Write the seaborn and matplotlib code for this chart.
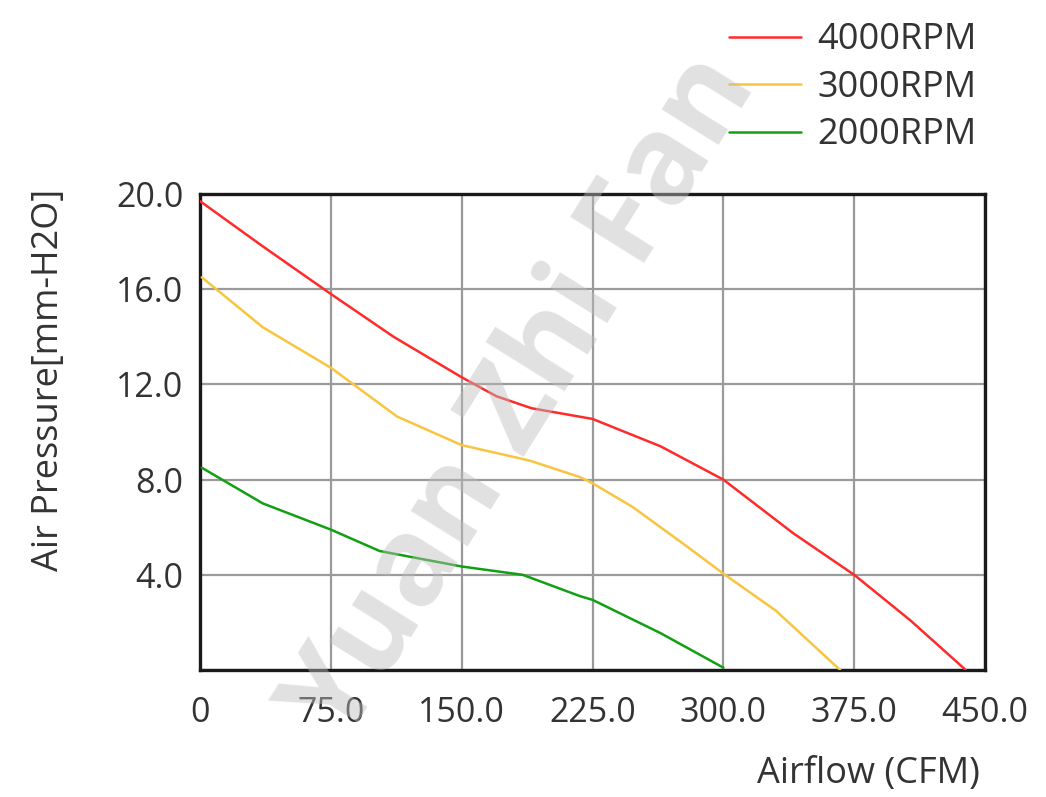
import matplotlib

matplotlib.use("Agg")
import matplotlib.pyplot as plt
import pandas as pd
import seaborn as sns

# P-Q curves
flow_4000 = [0, 36, 75, 111, 150, 170, 190, 225, 264, 300, 340, 375, 407, 439]
pres_4000 = [19.7, 17.8, 15.8, 14.0, 12.3, 11.5, 11.0, 10.55, 9.4, 8.0, 5.75, 4.0, 2.1, 0.0]

flow_3000 = [1, 36, 75, 113, 150, 189, 218, 225, 248, 279, 300, 330, 367]
pres_3000 = [16.5, 14.4, 12.7, 10.65, 9.45, 8.8, 8.1, 7.85, 6.85, 5.2, 4.05, 2.5, 0.0]

flow_2000 = [1, 36, 75, 103, 150, 185, 218, 225, 264, 300]
pres_2000 = [8.5, 7.0, 5.9, 5.0, 4.35, 4.0, 3.1, 2.95, 1.55, 0.1]

speeds = ["4000RPM", "3000RPM", "2000RPM"]
colors = ["#ff2b2b", "#f9c440", "#12a012"]

x_ticks = [0, 75, 150, 225, 300, 375, 450]
x_labels = ["0", "75.0", "150.0", "225.0", "300.0", "375.0", "450.0"]
y_ticks = [4, 8, 12, 16, 20]
y_labels = ["4.0", "8.0", "12.0", "16.0", "20.0"]

df = pd.concat([
    pd.DataFrame({"flow": flow_4000, "pressure": pres_4000, "speed": speeds[0]}),
    pd.DataFrame({"flow": flow_3000, "pressure": pres_3000, "speed": speeds[1]}),
    pd.DataFrame({"flow": flow_2000, "pressure": pres_2000, "speed": speeds[2]}),
], ignore_index=True)

sns.set_style("white")
plt.rcParams["font.family"] = ["Open Sans", "DejaVu Sans"]
TXT = "#333333"
FS_TICK = 24.5
FS_LAB = 26

fig = plt.figure(figsize=(10.46, 7.97), dpi=100)
ax = fig.add_axes([0.1912, 0.1593, 0.7505, 0.5973])

sns.lineplot(data=df, x="flow", y="pressure", hue="speed", hue_order=speeds,
             palette=colors, sort=False, estimator=None, linewidth=1.8,
             ax=ax, zorder=3)

ax.set_xlim(0, 450)
ax.set_ylim(0, 20)
ax.set_xticks(x_ticks)
ax.set_xticklabels(x_labels)
ax.set_yticks([0] + y_ticks)
ax.set_yticklabels([""] + y_labels)
ax.tick_params(axis="both", length=0, labelsize=FS_TICK, colors=TXT)
ax.tick_params(axis="x", pad=19)
ax.tick_params(axis="y", pad=12)
ax.grid(True, color="#9a9a9a", linewidth=1.6, zorder=1)
ax.set_axisbelow(True)
for s in ax.spines.values():
    s.set_visible(True)
    s.set_color("#1a1a1a")
    s.set_linewidth(2.4)

ax.set_xlabel("")
ax.set_ylabel("Air Pressure[mm-H2O]", fontsize=FS_LAB, color=TXT)
ax.yaxis.set_label_coords(-0.17, 0.61)
fig.text(0.937, 0.006, "Airflow (CFM)", fontsize=FS_LAB, color=TXT,
         ha="right", va="bottom")

leg = ax.legend(loc="lower right", bbox_to_anchor=(1.008, 1.055), frameon=False,
                fontsize=FS_LAB, handlelength=2.0, handletextpad=0.45,
                labelspacing=0.32, borderaxespad=0)
for t in leg.get_texts():
    t.set_color(TXT)

# faint diagonal watermark
fig.text(0.5, 0.5, "Yuan Zhi Fan", fontsize=88, fontweight="bold",
         color="#bdbdbd", alpha=0.45, rotation=58, ha="center", va="center",
         zorder=10)

fig.savefig("out.png", dpi=100)
